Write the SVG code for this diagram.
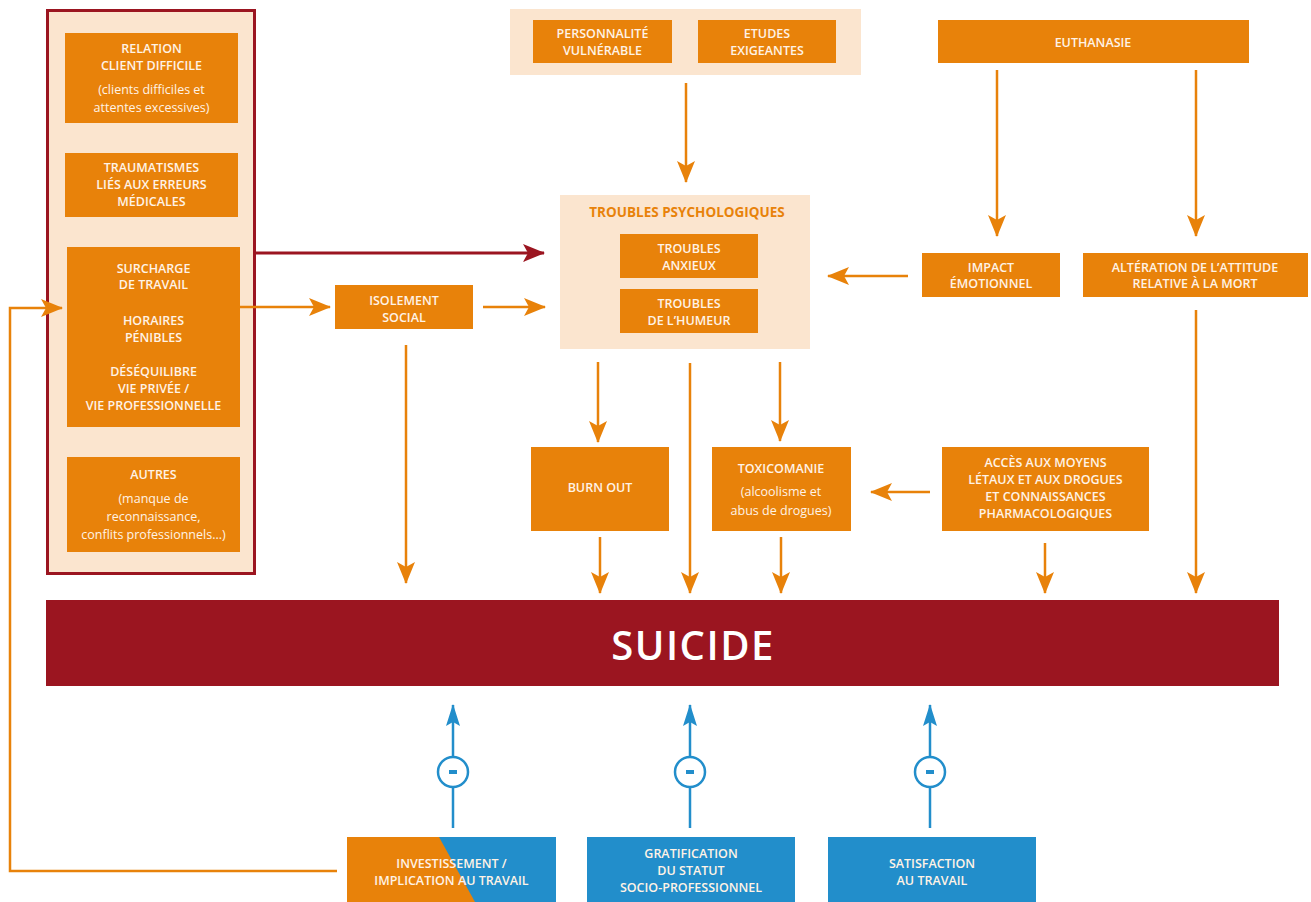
<svg xmlns="http://www.w3.org/2000/svg" width="1311" height="902" viewBox="0 0 1311 902">
<style>
.box{fill:#e8820a}
.lt{fill:#fbe5cf}
.blue{fill:#228ecb}
.t{fill:#fff3e6;font-family:"Open Sans","Liberation Sans",sans-serif;font-size:12.5px;font-weight:600;text-anchor:middle}
.s{fill:#fff3e6;font-family:"Open Sans","Liberation Sans",sans-serif;font-size:12.5px;font-weight:400;text-anchor:middle}
.ttl{fill:#e8820a;font-family:"Open Sans","Liberation Sans",sans-serif;font-size:13.5px;font-weight:700;text-anchor:middle}
.big{fill:#ffffff;font-family:"Open Sans","Liberation Sans",sans-serif;font-size:40px;font-weight:600;text-anchor:middle;letter-spacing:1.5px}
.or{fill:none;stroke:#e8820a;stroke-width:2.5;marker-end:url(#ao)}
.dr{fill:none;stroke:#9b1520;stroke-width:3;marker-end:url(#ar)}
.bl{fill:none;stroke:#228ecb;stroke-width:2.5;marker-end:url(#ab)}
</style>
<defs>
<marker id="ao" viewBox="0 0 22 18" refX="21" refY="9" markerWidth="22" markerHeight="18" markerUnits="userSpaceOnUse" orient="auto">
<path d="M0,0 L22,9 L0,18 L5,9 Z" fill="#e8820a"/>
</marker>
<marker id="ar" viewBox="0 0 22 18" refX="21" refY="9" markerWidth="22" markerHeight="18" markerUnits="userSpaceOnUse" orient="auto">
<path d="M0,0 L22,9 L0,18 L5,9 Z" fill="#9b1520"/>
</marker>
<marker id="ab" viewBox="0 0 22 14" refX="21" refY="7" markerWidth="22" markerHeight="14" markerUnits="userSpaceOnUse" orient="auto">
<path d="M0,0 L22,7 L0,14 L4,7 Z" fill="#228ecb"/>
</marker>
</defs>
<rect width="1311" height="902" fill="#ffffff"/>

<g id="left-group">
<rect x="47.5" y="10.5" width="207" height="563" class="lt" stroke="#9b1520" stroke-width="3"/>
</g>
<g id="relation">
<rect x="65" y="33" width="173" height="90" class="box"/>
<text class="t" x="151.5" y="52.5">RELATION</text>
<text class="t" x="151.5" y="69.5">CLIENT DIFFICILE</text>
<text class="s" x="151.5" y="94">(clients difficiles et</text>
<text class="s" x="151.5" y="111.5">attentes excessives)</text>
</g>
<g id="traumatismes">
<rect x="65" y="153" width="173" height="64" class="box"/>
<text class="t" x="151.5" y="171.5">TRAUMATISMES</text>
<text class="t" x="151.5" y="188.5">LIÉS AUX ERREURS</text>
<text class="t" x="151.5" y="205.5">MÉDICALES</text>
</g>
<g id="surcharge">
<rect x="67" y="247" width="173" height="180" class="box"/>
<text class="t" x="153.5" y="272.5">SURCHARGE</text>
<text class="t" x="153.5" y="289">DE TRAVAIL</text>
<text class="t" x="153.5" y="324.5">HORAIRES</text>
<text class="t" x="153.5" y="341.5">PÉNIBLES</text>
<text class="t" x="153.5" y="375.5">DÉSÉQUILIBRE</text>
<text class="t" x="153.5" y="392.5">VIE PRIVÉE /</text>
<text class="t" x="153.5" y="409.5">VIE PROFESSIONNELLE</text>
</g>
<g id="autres">
<rect x="67" y="457" width="173" height="95" class="box"/>
<text class="t" x="153.5" y="478.5">AUTRES</text>
<text class="s" x="153.5" y="502.5">(manque de</text>
<text class="s" x="153.5" y="520.5">reconnaissance,</text>
<text class="s" x="153.5" y="538.5">conflits professionnels...)</text>
</g>

<g id="top-group">
<rect x="510" y="9" width="351" height="66" class="lt"/>
</g>
<g id="personnalite">
<rect x="533" y="20" width="139" height="43" class="box"/>
<text class="t" x="602.5" y="37.5">PERSONNALITÉ</text>
<text class="t" x="602.5" y="54.5">VULNÉRABLE</text>
</g>
<g id="etudes">
<rect x="698" y="20" width="138" height="43" class="box"/>
<text class="t" x="767" y="37.5">ETUDES</text>
<text class="t" x="767" y="54.5">EXIGEANTES</text>
</g>

<g id="troubles-psy">
<rect x="560" y="195" width="250" height="154" class="lt"/>
<text class="ttl" x="687" y="217">TROUBLES PSYCHOLOGIQUES</text>
</g>
<g id="anxieux">
<rect x="620" y="234" width="138" height="44" class="box"/>
<text class="t" x="689" y="252.5">TROUBLES</text>
<text class="t" x="689" y="269.5">ANXIEUX</text>
</g>
<g id="humeur">
<rect x="620" y="289" width="138" height="44" class="box"/>
<text class="t" x="689" y="307.5">TROUBLES</text>
<text class="t" x="689" y="325">DE L’HUMEUR</text>
</g>

<g id="euthanasie">
<rect x="938" y="20" width="311" height="43" class="box"/>
<text class="t" x="1093" y="46.5">EUTHANASIE</text>
</g>
<g id="impact">
<rect x="922" y="253" width="138" height="44" class="box"/>
<text class="t" x="991" y="271.5">IMPACT</text>
<text class="t" x="991" y="288">ÉMOTIONNEL</text>
</g>
<g id="alteration">
<rect x="1083" y="253" width="225" height="44" class="box"/>
<text class="t" x="1195" y="271.5">ALTÉRATION DE L’ATTITUDE</text>
<text class="t" x="1195" y="288">RELATIVE À LA MORT</text>
</g>

<g id="isolement">
<rect x="335" y="285" width="138" height="44" class="box"/>
<text class="t" x="404" y="304.5">ISOLEMENT</text>
<text class="t" x="404" y="321.5">SOCIAL</text>
</g>

<g id="burnout">
<rect x="531" y="447" width="138" height="84" class="box"/>
<text class="t" x="600" y="492">BURN OUT</text>
</g>
<g id="toxicomanie">
<rect x="712" y="447" width="139" height="84" class="box"/>
<text class="t" x="781" y="472.5">TOXICOMANIE</text>
<text class="s" x="781" y="496">(alcoolisme et</text>
<text class="s" x="781" y="514.5">abus de drogues)</text>
</g>
<g id="acces">
<rect x="942" y="447" width="207" height="84" class="box"/>
<text class="t" x="1045.5" y="466.5">ACCÈS AUX MOYENS</text>
<text class="t" x="1045.5" y="484">LÉTAUX ET AUX DROGUES</text>
<text class="t" x="1045.5" y="501">ET CONNAISSANCES</text>
<text class="t" x="1045.5" y="518">PHARMACOLOGIQUES</text>
</g>

<g id="suicide">
<rect x="46" y="600" width="1233" height="86" fill="#9b1520"/>
<text class="big" x="693" y="660">SUICIDE</text>
</g>

<g id="investissement">
<rect x="347" y="837" width="209" height="65" class="blue"/>
<polygon points="347,837 439,837 475,902 347,902" class="box"/>
<text class="t" x="451.5" y="867.5">INVESTISSEMENT /</text>
<text class="t" x="451.5" y="884.5">IMPLICATION AU TRAVAIL</text>
</g>
<g id="gratification">
<rect x="587" y="837" width="208" height="65" class="blue"/>
<text class="t" x="691" y="857.5">GRATIFICATION</text>
<text class="t" x="691" y="874.5">DU STATUT</text>
<text class="t" x="691" y="892">SOCIO-PROFESSIONNEL</text>
</g>
<g id="satisfaction">
<rect x="828" y="837" width="208" height="65" class="blue"/>
<text class="t" x="932" y="867.5">SATISFACTION</text>
<text class="t" x="932" y="884.5">AU TRAVAIL</text>
</g>

<g id="connectors">
<path class="or" d="M337,871 H10 V308 H62"/>
<path class="dr" d="M256,253 H544"/>
<path class="or" d="M240,307 H330"/>
<path class="or" d="M483,307 H545"/>
<path class="or" d="M406,345 V583"/>
<path class="or" d="M686,83 V182"/>
<path class="or" d="M997,70 V236"/>
<path class="or" d="M1196,70 V236"/>
<path class="or" d="M908,276 H828"/>
<path class="or" d="M1196,310 V593"/>
<path class="or" d="M598,362 V442"/>
<path class="or" d="M690,363 V593"/>
<path class="or" d="M780,362 V441"/>
<path class="or" d="M930,492 H871"/>
<path class="or" d="M600,537 V593"/>
<path class="or" d="M781,537 V593"/>
<path class="or" d="M1045,543 V593"/>
<path class="bl" d="M453,828 V705"/>
<path class="bl" d="M690,828 V705"/>
<path class="bl" d="M930,828 V705"/>
<g fill="#ffffff" stroke="#228ecb" stroke-width="2.5">
<circle cx="453" cy="772" r="15"/>
<circle cx="690" cy="772" r="15"/>
<circle cx="930" cy="772" r="15"/>
</g>
<g fill="#228ecb">
<rect x="449" y="770" width="8" height="4"/>
<rect x="686" y="770" width="8" height="4"/>
<rect x="926" y="770" width="8" height="4"/>
</g>
</g>
</svg>
